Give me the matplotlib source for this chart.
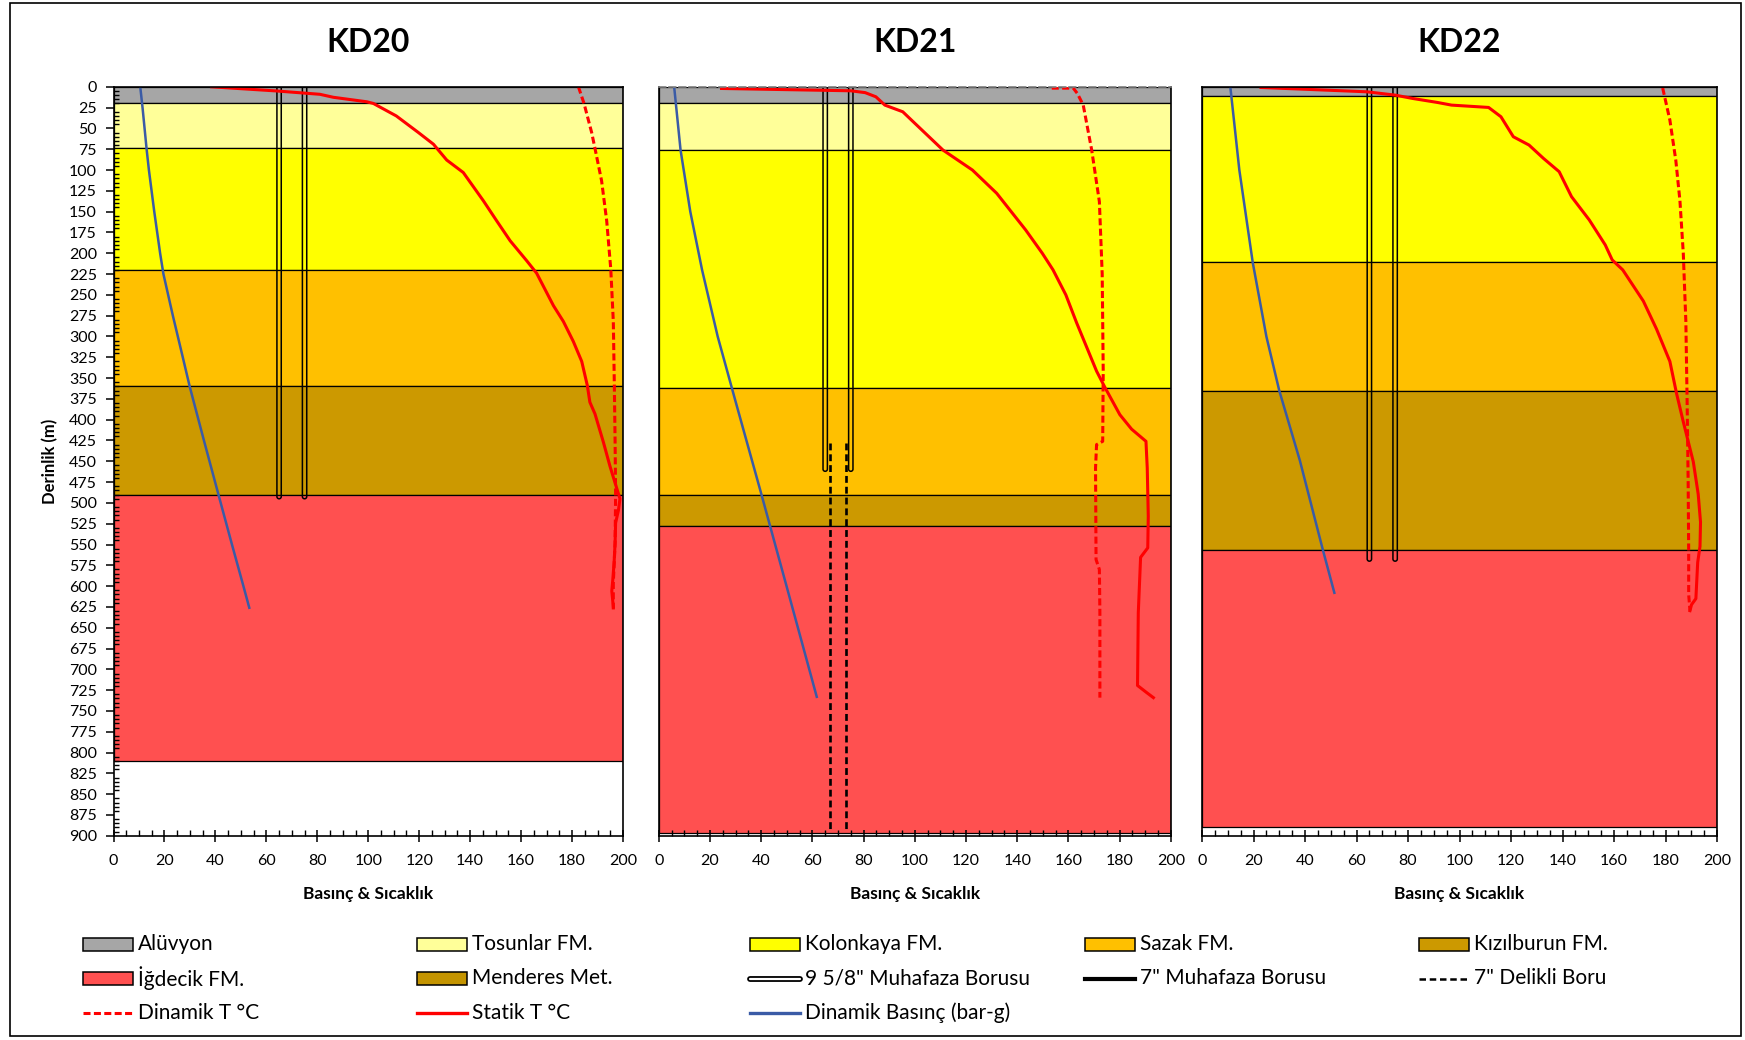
import numpy as np
import matplotlib
matplotlib.use("Agg")
import matplotlib.pyplot as plt
from matplotlib.ticker import MultipleLocator
from matplotlib.patches import Rectangle
from matplotlib.lines import Line2D

plt.rcParams['font.family'] = ['Lato', 'DejaVu Sans']

# ---------------------------------------------------------------- formations
formation_names = ["Alüvyon", "Tosunlar FM.", "Kolonkaya FM.", "Sazak FM.",
                   "Kızılburun FM.", "İğdecik FM.", "Menderes Met."]
formation_colors = ["#A6A6A6", "#FFFF99", "#FFFF00", "#FFC000",
                    "#CC9900", "#FF5050", "#C49400"]

well_names = ["KD20", "KD21", "KD22"]

kd20_layers = ["Alüvyon", "Tosunlar FM.", "Kolonkaya FM.", "Sazak FM.", "Kızılburun FM.", "İğdecik FM."]
kd20_tops = [0, 20, 74, 220, 360, 490]
kd20_bottoms = [20, 74, 220, 360, 490, 810]

kd21_layers = ["Alüvyon", "Tosunlar FM.", "Kolonkaya FM.", "Sazak FM.", "Kızılburun FM.", "İğdecik FM."]
kd21_tops = [0, 20, 76, 362, 491, 528]
kd21_bottoms = [20, 76, 362, 491, 528, 897]

kd22_layers = ["Alüvyon", "Kolonkaya FM.", "Sazak FM.", "Kızılburun FM.", "İğdecik FM."]
kd22_tops = [0, 11, 211, 365, 556]
kd22_bottoms = [11, 211, 365, 556, 890]

# ---------------------------------------------------------------- completion
casing_x = [65, 75]            # 9 5/8" casing walls
kd20_shoe = 495
kd21_shoe = 462
kd22_shoe = 570
kd21_liner_x = [67, 73]        # 7" slotted liner
kd21_liner_top = 428
kd21_liner_bottom = 897

# ---------------------------------------------------------------- KD20 logs
kd20_p_depth = [0, 25, 50, 75, 100, 150, 200, 225, 275, 325, 360, 425, 490, 550, 600, 626]
kd20_p = [10.5, 11.4, 12.2, 13.0, 13.9, 16.0, 18.3, 19.6, 23.3, 27.2, 29.9, 35.5, 41.2, 46.5, 51.0, 53.3]

kd20_ts_depth = [0, 5, 9, 12.6, 18, 20, 35, 55, 69, 88, 103, 137, 161, 185, 209, 224,
                 263, 282, 306, 330, 359, 379, 393, 427, 456, 485, 495, 509, 524, 548,
                 572, 592, 606, 625]
kd20_ts = [38.5, 64, 81, 86.3, 99.4, 102, 111, 119.7, 125.6, 130.8, 137.3, 145.2, 150.4,
           155.7, 162.2, 166.1, 172.7, 176.6, 180.5, 183.8, 186, 187, 189, 192.3, 194.9,
           197.8, 198.8, 198.2, 197.1, 196.9, 196.5, 196, 195.6, 196.2]

kd20_td_depth = [0, 20, 55, 74, 113, 161, 219, 282, 359, 427, 490, 548, 596, 628]
kd20_td = [182.5, 184.7, 187.7, 189, 191.6, 193.6, 195.2, 196.2, 196.6, 196.9, 197.1,
           196.9, 196.2, 196.2]

# ---------------------------------------------------------------- KD21 logs
kd21_p_depth = [0, 76, 150, 220, 300, 376, 491, 527, 600, 680, 733]
kd21_p = [6.0, 8.5, 12.3, 16.9, 23.0, 29.8, 40.2, 43.4, 49.9, 57.0, 61.7]

kd21_ts_depth = [2, 4.8, 7, 12, 22, 30, 40, 76, 100, 128, 172, 200, 220, 250, 283.5, 341.6,
                 361.4, 394, 411.4, 426, 458, 516, 554, 565.4, 632, 719.4, 728, 734]
kd21_ts = [24.5, 75, 80.6, 84.8, 88.3, 95.3, 98.7, 111, 122.5, 132, 143.3, 149.8, 154.0,
           159.0, 163.2, 171, 174.3, 180.1, 184.7, 190.3, 190.8, 191.2, 191, 188.2, 187.3,
           187, 190.6, 193.2]

kd21_td_depth = [1.6, 1.6, 8, 22, 76, 138, 225, 341.6, 426, 430, 458, 568, 580, 632, 734]
kd21_td = [153.5, 161.9, 163.5, 165.8, 169.1, 172.1, 173.2, 173.6, 173.4, 171, 170.6,
           170.8, 172.1, 172.3, 172.3]

# ---------------------------------------------------------------- KD22 logs
kd22_p_depth = [0, 100, 211, 300, 365, 449, 556, 608]
kd22_p = [11.0, 14.5, 19.7, 25.0, 30.0, 38.0, 46.9, 51.4]

kd22_ts_depth = [0.8, 6, 10, 14, 18.8, 22, 24.8, 36, 60, 70, 86, 102, 132, 160, 190, 208,
                 220, 257.5, 291, 330, 368.6, 402.4, 450.7, 489.4, 523, 552.2, 571.5, 615,
                 622.3, 629.5]
kd22_ts = [22.9, 64, 75, 81.8, 91.4, 96.9, 111.3, 116.1, 120.9, 127, 132.6, 138.7, 143.5,
           150.4, 156.6, 159.3, 163.4, 171.4, 176.5, 181.7, 184.3, 186.9, 190.8, 192.7,
           193.6, 193.4, 192.5, 191.8, 190.1, 189.5]

kd22_td_depth = [1.4, 40, 88.3, 136.7, 199.5, 281.6, 378, 475, 557, 610, 629.5]
kd22_td = [178.9, 181.7, 184, 185.6, 186.9, 187.9, 188.4, 188.8, 189, 189, 189.5]

# ---------------------------------------------------------------- styling
RED = "#FF0000"
BLUE = "#3A5BA6"
W, H = 1745, 1040
color_of = dict(zip(formation_names, formation_colors))

fig = plt.figure(figsize=(W / 100, H / 100), dpi=100)
fig.patch.set_facecolor("white")


def fx(px):
    return px / W


def fy(px):
    return 1 - px / H


ax_left_px = [113.5, 658.8, 1202]
ax_width_px = [509.5, 512, 515]
ax_top_px, ax_bot_px = 86.8, 835.8

wells = [
    dict(layers=kd20_layers, tops=kd20_tops, bottoms=kd20_bottoms, shoe=kd20_shoe,
         p=(kd20_p, kd20_p_depth), ts=(kd20_ts, kd20_ts_depth), td=(kd20_td, kd20_td_depth)),
    dict(layers=kd21_layers, tops=kd21_tops, bottoms=kd21_bottoms, shoe=kd21_shoe,
         p=(kd21_p, kd21_p_depth), ts=(kd21_ts, kd21_ts_depth), td=(kd21_td, kd21_td_depth)),
    dict(layers=kd22_layers, tops=kd22_tops, bottoms=kd22_bottoms, shoe=kd22_shoe,
         p=(kd22_p, kd22_p_depth), ts=(kd22_ts, kd22_ts_depth), td=(kd22_td, kd22_td_depth)),
]


def casing_outline(ax, x, shoe, half_w=0.85, r_depth=2.6):
    """Thin double-walled pipe with a rounded shoe."""
    theta = np.linspace(np.pi, 0, 20)
    xs = np.concatenate([[x - half_w], x + half_w * np.cos(theta), [x + half_w]])
    ys = np.concatenate([[-5], (shoe - r_depth) + r_depth * np.sin(theta), [-5]])
    ax.plot(xs, ys, color="black", lw=1.1, zorder=3, solid_joinstyle="round")


axes = []
for i, (name, well) in enumerate(zip(well_names, wells)):
    ax = fig.add_axes([fx(ax_left_px[i]), fy(ax_bot_px), fx(ax_width_px[i]),
                       (ax_bot_px - ax_top_px) / H])
    axes.append(ax)
    ax.set_xlim(0, 200)
    ax.set_ylim(900, 0)

    for lay, top, bot in zip(well["layers"], well["tops"], well["bottoms"]):
        ax.axhspan(top, bot, facecolor=color_of[lay], edgecolor="black",
                   linewidth=0.9, zorder=0.5)

    for cx in casing_x:
        casing_outline(ax, cx, well["shoe"])

    if name == "KD21":
        for lx in kd21_liner_x:
            ax.plot([lx, lx], [kd21_liner_top, kd21_liner_bottom], color="black",
                    lw=1.9, ls=(0, (2.6, 1.5)), zorder=3)

    ax.plot(*well["p"], color=BLUE, lw=1.8, zorder=4)
    ax.plot(*well["td"], color=RED, lw=2.2, ls=(0, (2.3, 1.1)), zorder=4)
    ax.plot(*well["ts"], color=RED, lw=2.2, zorder=5, solid_joinstyle="round")

    for sp in ax.spines.values():
        sp.set_linewidth(1.2)
        sp.set_zorder(6)

    ax.xaxis.set_major_locator(MultipleLocator(20))
    ax.xaxis.set_minor_locator(MultipleLocator(5))
    ax.tick_params(axis="x", which="major", direction="inout", length=8, width=1.1,
                   labelsize=11.5, pad=9)
    ax.tick_params(axis="x", which="minor", direction="in", length=4, width=1)

    if i == 0:
        ax.yaxis.set_major_locator(MultipleLocator(25))
        ax.yaxis.set_minor_locator(MultipleLocator(5))
        ax.tick_params(axis="y", which="major", direction="out", length=6, width=1.1,
                       labelsize=11.5, pad=6)
        ax.tick_params(axis="y", which="minor", direction="in", length=3.5, width=1)
    else:
        ax.tick_params(axis="y", which="both", left=False, labelleft=False)

    cx_px = ax_left_px[i] + ax_width_px[i] / 2
    fig.text(fx(cx_px), fy(42.5), name, ha="center", va="center",
             fontsize=23, fontweight="bold")
    fig.text(fx(cx_px), fy(893.5), "Basınç & Sıcaklık", ha="center", va="center",
             fontsize=12.5, fontweight="bold")

axes[1].spines["top"].set_linestyle((0, (4, 2)))
axes[1].spines["top"].set_color("#7F7F7F")

fig.text(fx(50), fy(461), "Derinlik (m)", rotation=90, ha="center", va="center",
         fontsize=12, fontweight="bold")

# ---------------------------------------------------------------- legend
legend_items = [
    ("patch", "Alüvyon"), ("patch", "Tosunlar FM."), ("patch", "Kolonkaya FM."),
    ("patch", "Sazak FM."), ("patch", "Kızılburun FM."),
    ("patch", "İğdecik FM."), ("patch", "Menderes Met."), ("casing", "9 5/8\" Muhafaza Borusu"),
    ("solid_black", "7\" Muhafaza Borusu"), ("dash_black", "7\" Delikli Boru"),
    ("dash_red", "Dinamik T °C"), ("solid_red", "Statik T °C"), ("blue", "Dinamik Basınç (bar-g)"),
]
col_px = [83, 417, 750, 1085, 1419]
row_px = [944, 978.5, 1013]
sw_w, sw_h = 50, 13

for k, (kind, label) in enumerate(legend_items):
    x0 = col_px[k % 5]
    yc = row_px[k // 5]
    xs = [fx(x0), fx(x0 + sw_w)]
    ys = [fy(yc), fy(yc)]
    if kind == "patch":
        fig.patches.append(Rectangle((fx(x0), fy(yc + sw_h / 2)), sw_w / W, sw_h / H,
                                     transform=fig.transFigure, facecolor=color_of[label],
                                     edgecolor="black", linewidth=1.1))
    elif kind == "casing":
        fig.lines.append(Line2D(xs, ys, transform=fig.transFigure, color="black", lw=4.2,
                                solid_capstyle="round"))
        fig.lines.append(Line2D(xs, ys, transform=fig.transFigure, color="white", lw=1.6,
                                solid_capstyle="round"))
    elif kind == "solid_black":
        fig.lines.append(Line2D(xs, ys, transform=fig.transFigure, color="black", lw=3))
    elif kind == "dash_black":
        fig.lines.append(Line2D(xs, ys, transform=fig.transFigure, color="black", lw=1.8,
                                ls=(0, (2.6, 1.5))))
    elif kind == "dash_red":
        fig.lines.append(Line2D(xs, ys, transform=fig.transFigure, color=RED, lw=2.2,
                                ls=(0, (2.3, 1.1))))
    elif kind == "solid_red":
        fig.lines.append(Line2D(xs, ys, transform=fig.transFigure, color=RED, lw=2.4))
    elif kind == "blue":
        fig.lines.append(Line2D(xs, ys, transform=fig.transFigure, color=BLUE, lw=2.4))
    fig.text(fx(x0 + sw_w + 5), fy(yc), label, ha="left", va="center", fontsize=15)

# outer frame
fig.patches.append(Rectangle((fx(10), fy(1036)), 1731 / W, 1033 / H,
                             transform=fig.transFigure, fill=False, edgecolor="black",
                             linewidth=1.2))

fig.savefig("out.png", dpi=100, facecolor="white")
